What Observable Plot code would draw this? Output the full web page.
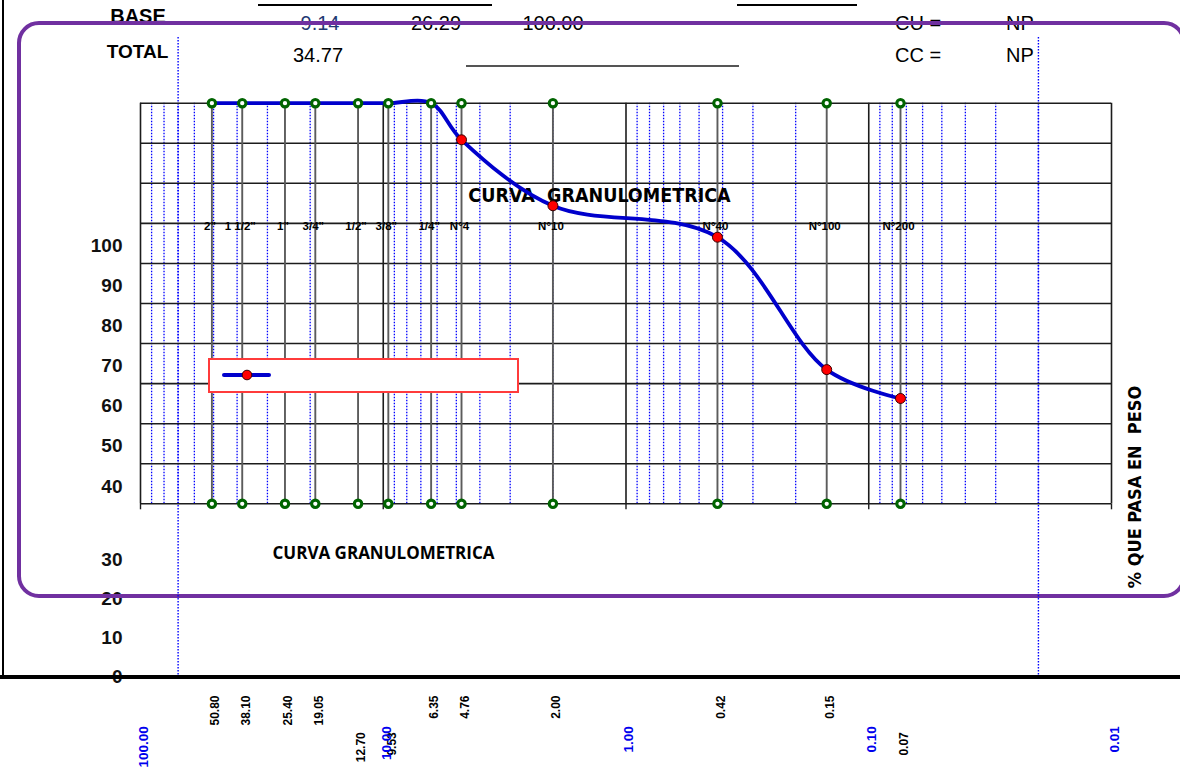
<!DOCTYPE html>
<html>
<head>
<meta charset="utf-8">
<script src="https://cdn.jsdelivr.net/npm/d3@7"></script>
<script src="https://cdn.jsdelivr.net/npm/@observablehq/plot@0.6"></script>
<style>
html, body { margin: 0; padding: 0; background: #fff; }
#wrap { position: relative; width: 1180px; height: 767px; overflow: hidden; background: #fff;
        font-family: "Liberation Sans", Arial, sans-serif; }
#wrap > svg, #wrap > div { position: absolute; left: 0; top: 0; }
.ht { position: absolute; transform: translate(-50%, -50%); line-height: 1; white-space: nowrap; font-size: 20px; color: #000; }
.hb { font-weight: bold; }
</style>
</head>
<body>
<div id="wrap"></div>
<script>
// ---------------- data ----------------
const sieveNames  = ['2"', '1 1/2"', '1"', '3/4"', '1/2"', '3/8"', '1/4"', 'N°4', 'N°10', 'N°40', 'N°100', 'N°200'];
const sieveSize   = [50.8, 38.1, 25.4, 19.05, 12.7, 9.53, 6.35, 4.76, 2.00, 0.42, 0.149, 0.074];
const sizeLabels  = ["50.80", "38.10", "25.40", "19.05", "12.70", "9.53", "6.35", "4.76", "2.00", "0.42", "0.15", "0.07"];
const passing     = [100, 100, 100, 100, 100, 100, 100, 90.86, 74.4, 66.55, 33.5, 26.29];
const gridY       = [0, 10, 20, 30, 40, 50, 60, 70, 80, 90, 100];
const decades     = [100, 10, 1, 0.1, 0.01];
const decadeLabels = ["100.00", "10.00", "1.00", "0.10", "0.01"];
const minorTicks  = [90, 80, 70, 60, 50, 40, 30, 20,
                     9, 8, 7, 6, 5, 4, 3, 2,
                     0.9, 0.8, 0.7, 0.6, 0.5, 0.4, 0.3, 0.2,
                     0.09, 0.08, 0.07, 0.06, 0.05, 0.04, 0.03, 0.02];
const longDotted  = [70, 0.02];
const yUpperTicks = [100, 90, 80, 70, 60, 50, 40];
const yLowerTicks = [30, 20, 10, 0];
const headerBase  = ["9.14", "26.29", "100.00"];
const headerTotal = "34.77";
const cuValue = "NP", ccValue = "NP";
const titleText = "CURVA\u00a0 GRANULOMETRICA";
const captionText = "CURVA GRANULOMETRICA";
const yTitle = "% QUE PASA EN\u00a0 PESO";

// ---------------- layout ----------------
const W = 1180, H = 767;
const FONT = '"Liberation Sans", Arial, sans-serif';
const NARROW = '"Liberation Sans Narrow", "Arial Narrow", "DejaVu Sans Condensed", sans-serif';
const wrap = document.getElementById("wrap");
const xScale = {type: "log", domain: [100, 0.01]};
const idx = d3.range(sieveSize.length);
const lowered = new Set(["12.70", "9.53", "0.07"]);

// header (HTML text)
function ht(text, x, y, cls, extra) {
  const d = document.createElement("div");
  d.className = "ht " + (cls || "");
  d.textContent = text;
  d.style.left = x + "px"; d.style.top = y + "px";
  if (extra) Object.assign(d.style, extra);
  wrap.appendChild(d);
}
function hline(x1, x2, y, w, color) {
  const d = document.createElement("div");
  Object.assign(d.style, {left: x1 + "px", top: (y - w / 2) + "px", width: (x2 - x1) + "px", height: w + "px", background: color});
  wrap.appendChild(d);
}
hline(258, 492, 5, 2, "#000");
hline(737, 857, 5, 2, "#000");
hline(466, 739, 66, 1.5, "#555");
ht("BASE", 138, 16, "hb", {fontSize: "20px"});
ht("TOTAL", 137.5, 51, "hb", {fontSize: "19px"});
ht(headerBase[0], 320, 23, "", {color: "#1f3a73"});
ht(headerBase[1], 436, 23);
ht(headerBase[2], 553, 23);
ht(headerTotal, 318, 55);
ht("CU =", 918, 23);
ht(cuValue, 1020, 23);
ht("CC =", 918, 55);
ht(ccValue, 1020, 55);

// y labels (two separate label scales, as in the reference)
const yUpper = Plot.plot({
  width: 122, height: H, margin: 0,
  y: {domain: [40, 100], range: [486, 245], axis: null},
  style: {background: "transparent", fontFamily: FONT, overflow: "visible"},
  marks: [Plot.text(yUpperTicks, {y: d => d, text: d => String(d), frameAnchor: "right", textAnchor: "end",
                                   lineAnchor: "middle", fontSize: 19, fontWeight: "bold", fill: "#111"})]
});
wrap.appendChild(yUpper);
const yLower = Plot.plot({
  width: 122, height: H, margin: 0,
  y: {domain: [0, 30], range: [676, 559.3], axis: null},
  style: {background: "transparent", fontFamily: FONT, overflow: "visible"},
  marks: [Plot.text(yLowerTicks, {y: d => d, text: d => String(d), frameAnchor: "right", textAnchor: "end",
                                   lineAnchor: "middle", fontSize: 19, fontWeight: "bold", fill: "#111"})]
});
wrap.appendChild(yLower);

// purple rounded frame
const purple = document.createElement("div");
Object.assign(purple.style, {left: "17px", top: "21px", width: "1169px", height: "577px", boxSizing: "border-box",
  border: "4px solid #7030a0", borderRadius: "22px"});
wrap.appendChild(purple);

// long dotted guide lines
const dotted = Plot.plot({
  width: W, height: H, marginLeft: 140, marginRight: 69, marginTop: 37, marginBottom: 90,
  x: {...xScale, axis: null},
  style: {background: "transparent"},
  marks: [Plot.ruleX(longDotted, {x: d => d, stroke: "#0000ff", strokeWidth: 1.4, strokeDasharray: "1.5,1.5"})]
});
wrap.appendChild(dotted);

// main chart
const main = Plot.plot({
  width: W, height: H,
  marginLeft: 140, marginRight: 69, marginTop: 102.7, marginBottom: 263.7,
  x: xScale,
  y: {domain: [0, 100], axis: null},
  style: {background: "transparent", fontFamily: FONT, overflow: "visible"},
  marks: [
    Plot.ruleX(minorTicks, {x: d => d, stroke: "#0000ff", strokeWidth: 1.3, strokeDasharray: "1.5,1.5"}),
    Plot.ruleY(gridY, {y: d => d, stroke: "#1c1c1c", strokeWidth: 1.6}),
    Plot.ruleX(decades, {x: d => d, stroke: "#1c1c1c", strokeWidth: 1.6}),
    Plot.ruleX(sieveSize, {x: d => d, stroke: "#5c5c5c", strokeWidth: 1.9}),
    Plot.axisX({ticks: decades, tickSize: 6, tickFormat: () => "", label: null, stroke: "#1c1c1c", strokeWidth: 1.4}),
    Plot.text(sieveNames, {x: (d, i) => sieveSize[i], text: d => d, frameAnchor: "top", lineAnchor: "middle",
                           dy: 123.3, dx: -2, fontSize: 11.5, fontWeight: "bold", fill: "#000"}),
    Plot.text([titleText], {frameAnchor: "top-left", lineAnchor: "middle", dx: 459, dy: 92.8, text: d => d,
                            textAnchor: "middle", fontSize: 19.5, fontWeight: "bold", fontFamily: NARROW, fill: "#000"}),
    Plot.line(idx, {x: i => sieveSize[i], y: i => passing[i], curve: "catmull-rom", stroke: "#0000cc", strokeWidth: 3.8}),
    Plot.dot(sieveSize, {x: d => d, frameAnchor: "top", r: 3.7, fill: "white", stroke: "#006400", strokeWidth: 3.1}),
    Plot.dot(sieveSize, {x: d => d, frameAnchor: "bottom", r: 3.7, fill: "white", stroke: "#006400", strokeWidth: 3.1}),
    Plot.dot(idx.filter(i => passing[i] < 100), {x: i => sieveSize[i], y: i => passing[i], r: 5,
                           fill: "#ff0000", stroke: "#3a0000", strokeWidth: 1}),
    Plot.text(idx.filter(i => !lowered.has(sizeLabels[i])), {x: i => sieveSize[i], text: i => sizeLabels[i],
                           frameAnchor: "bottom", lineAnchor: "middle", dy: 191.7, dx: 3.5, rotate: -90, textAnchor: "end",
                           fontSize: 12, fontWeight: "bold", fill: "#000"}),
    Plot.text(idx.filter(i => lowered.has(sizeLabels[i])), {x: i => sieveSize[i], text: i => sizeLabels[i],
                           frameAnchor: "bottom", lineAnchor: "middle", dy: 228.4, dx: 3.5, rotate: -90, textAnchor: "end",
                           fontSize: 12, fontWeight: "bold", fill: "#000"}),
    Plot.text(decades, {x: d => d, text: (d, i) => decadeLabels[i], frameAnchor: "bottom", lineAnchor: "middle",
                        dy: 222.5, dx: 3, rotate: -90, textAnchor: "end", fontSize: 13.5, fontWeight: "bold", fill: "#0000ee"}),
    Plot.text([captionText], {frameAnchor: "top-left", lineAnchor: "middle", dx: 132, dy: 450.3, text: d => d,
                              textAnchor: "start", fontSize: 17, fontWeight: "bold", fontFamily: '"Open Sans", sans-serif', fill: "#000"}),
    Plot.text([yTitle], {frameAnchor: "top-right", lineAnchor: "middle", dx: 24, dy: 383.8, text: d => d, rotate: -90,
                         textAnchor: "middle", fontSize: 18, fontWeight: "bold", fontFamily: NARROW, fill: "#000"})
  ]
});
wrap.appendChild(main);

// outer black frame
const leftLine = document.createElement("div");
Object.assign(leftLine.style, {left: "2px", top: "0px", width: "2px", height: "677px", background: "#000"});
wrap.appendChild(leftLine);
const bottomLine = document.createElement("div");
Object.assign(bottomLine.style, {left: "0px", top: "675px", width: "1180px", height: "4px", background: "#000"});
wrap.appendChild(bottomLine);

// legend
const legend = document.createElement("div");
Object.assign(legend.style, {left: "208px", top: "358px", width: "311px", height: "35px", boxSizing: "border-box",
  border: "2px solid #ff3b3b", background: "#fff"});
const lsvg = d3.create("svg").attr("width", 307).attr("height", 31).style("position", "absolute").style("left", "0").style("top", "0");
lsvg.append("line").attr("x1", 14).attr("x2", 59).attr("y1", 15).attr("y2", 15).attr("stroke", "#0000cc").attr("stroke-width", 4).attr("stroke-linecap", "round");
lsvg.append("circle").attr("cx", 37).attr("cy", 15).attr("r", 4.8).attr("fill", "#ff0000").attr("stroke", "#3a0000");
legend.appendChild(lsvg.node());
wrap.appendChild(legend);
</script>
</body>
</html>
